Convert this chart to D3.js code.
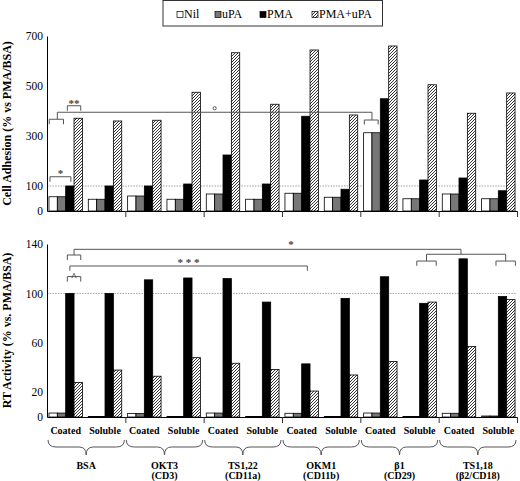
<!DOCTYPE html>
<html><head><meta charset="utf-8">
<script src="https://cdn.jsdelivr.net/npm/d3@7"></script>
<style>body{margin:0;background:#fff}svg{display:block;font-family:"Liberation Serif","Times New Roman",serif}</style>
</head><body><svg id="c" width="520" height="481"></svg>
<script>
// ---- data ----
const groups = ["BSA","OKT3","TS1,22","OKM1","β1","TS1,18"];
const groupSub = ["", "(CD3)", "(CD11a)", "(CD11b)", "(CD29)", "(β2/CD18)"];
const conditions = ["Coated","Soluble"];
const series = ["Nil","uPA","PMA","PMA+uPA"];
// Cell adhesion (% vs PMA/BSA), order: group x condition
const adhNil    = [57,47,60,47,68,47,71,55,313,49,68,49];
const adhUPA    = [57,47,60,47,68,47,71,55,313,49,68,49];
const adhPMA    = [100,100,100,108,224,108,379,87,449,124,132,81];
const adhPMAuPA = [371,360,363,475,633,427,644,384,660,505,391,472];
// RT activity (% vs. PMA/BSA)
const rtNil    = [3.2,0.4,2.8,0.4,3.2,0.4,3,0.4,3.2,0.4,3,0.8];
const rtUPA    = [3.2,0.4,2.8,0.4,3.2,0.4,3,0.4,3.2,0.4,3,0.8];
const rtPMA    = [100,100,111,112.5,112,93,43,96,113.5,92,128,97.5];
const rtPMAuPA = [28,38,33,48,43.5,38.5,21,34,45,93,57,95];
const adhTicks = [0,100,300,500,700];
const rtTicks = [0,20,60,100,140];

// ---- setup ----
const svg = d3.select("#c");
const defs = svg.append("defs");
const pat = defs.append("pattern").attr("id","hatch").attr("patternUnits","userSpaceOnUse")
  .attr("width",3).attr("height",3);
pat.append("rect").attr("width",3).attr("height",3).attr("fill","#fff");
pat.append("path").attr("d","M-1,1 l2,-2 M0,3 l3,-3 M2,4 l2,-2")
  .attr("stroke","#000").attr("stroke-width",0.8);

const fills = {"Nil":"#fff","uPA":"#777","PMA":"#000","PMA+uPA":"url(#hatch)"};
const subIds = [];
groups.forEach(g => conditions.forEach(c => subIds.push(g+"|"+c)));
const X0 = 47, X1 = 517;
const xSub = d3.scaleBand().domain(subIds).range([X0,X1]).paddingInner(0.15).paddingOuter(0.05);
const xBar = d3.scaleBand().domain(series).range([0, xSub.bandwidth()]);
const xGroup = d3.scaleBand().domain(groups).range([X0,X1]);
const xIdx = d3.scaleLinear().domain([0,groups.length]).range([X0,X1]);
const bw = xBar.bandwidth();
const bx = (gi,ci,si) => xSub(groups[gi]+"|"+conditions[ci]) + xBar(series[si]);

const yA = d3.scaleLinear().domain([0,700]).range([211,36]);
const yB = d3.scaleLinear().domain([0,140]).range([417,244]);

const GRAY = "#555";

function panel(y, arrays, ticks, title) {
  const g = svg.append("g");
  g.append("line").attr("x1",X0).attr("x2",X1).attr("y1",y(100)).attr("y2",y(100))
    .attr("stroke","#888").attr("stroke-width",0.8).attr("stroke-dasharray","1.5,1.2");
  const rows = [];
  subIds.forEach((id,i) => series.forEach((s,si) => rows.push({id, s, v: arrays[si][i]})));
  g.selectAll("rect.bar").data(rows).join("rect").attr("class","bar")
    .attr("x", d => xSub(d.id) + xBar(d.s))
    .attr("width", bw)
    .attr("y", d => y(d.v))
    .attr("height", d => y(0) - y(d.v))
    .attr("fill", d => fills[d.s])
    .attr("stroke","#000").attr("stroke-width",0.8);
  const ya = g.append("g").attr("transform",`translate(${X0},0)`)
    .call(d3.axisLeft(y).tickValues(ticks).tickSize(0).tickPadding(4).tickSizeOuter(0));
  ya.select(".domain").attr("stroke","#000");
  ya.selectAll("text").attr("font-family","Liberation Serif").attr("font-size",11.5).attr("fill","#000");
  const xa = g.append("g").attr("transform",`translate(0,${y(0)})`)
    .call(d3.axisBottom(xIdx).tickValues(d3.range(1,groups.length+1)).tickFormat("").tickSize(6).tickSizeOuter(0));
  xa.select(".domain").attr("stroke","#000");
  xa.selectAll(".tick line").attr("stroke","#333");
  const [r0,r1] = y.range();
  svg.append("text").attr("transform",`translate(11,${(r0+r1)/2}) rotate(-90)`)
    .attr("text-anchor","middle").attr("font-weight","bold").attr("font-size",12).text(title);
}
panel(yA, [adhNil,adhUPA,adhPMA,adhPMAuPA], adhTicks, "Cell Adhesion (% vs PMA/BSA)");
panel(yB, [rtNil,rtUPA,rtPMA,rtPMAuPA], rtTicks, "RT Activity (% vs. PMA/BSA)");

// ---- annotations ----
const ann = svg.append("g").attr("fill","none").attr("stroke",GRAY).attr("stroke-width",1);
function bracket(xl, xr, yy, h) {
  ann.append("path").attr("d",`M${xl},${yy+h} V${yy} H${xr} V${yy+h}`);
}
function line(pts) {
  ann.append("path").attr("d", d3.line()(pts));
}
function label(txt, x, yy, size) {
  svg.append("text").attr("x",x).attr("y",yy).attr("text-anchor","middle")
    .attr("font-size",size||11).attr("font-weight","bold").attr("fill","#444").text(txt);
}
// top panel
{
  const xl = bx(0,0,0)+1, xr = bx(0,0,2)+bw/2+1, yy = yA(137);
  bracket(xl, xr, yy, 5);
  label("*", (xl+xr)/2, yy+0.5, 11);
  const c1 = bx(0,0,1), c2 = bx(4,0,1), top = yA(395);
  bracket(bx(0,0,0)+0.3, c1+bw/2+2, yA(367), 5);
  bracket(bx(4,0,0)+0.7, c2+bw/2+2, yA(364), 4.5);
  line([[c1,yA(367)],[c1,top],[c2,top],[c2,yA(364)]]);
  ann.append("circle").attr("cx",(c1+c2)/2).attr("cy",top-4).attr("r",1.6);
  const c3 = bx(0,0,3), y3 = yA(421);
  bracket(c3-6.7, c3+6.7, y3, 5);
  label("**", c3, y3+1.5, 11);
}
// bottom panel
{
  const c = bx(0,0,3);
  const yT = yB(131.1), yL = yB(135.7);
  bracket(c-6.7, c+6.7, yT, 5);
  const m = bx(5,0,2)+2;
  const a = bx(4,1,3)-1.5, b = bx(5,1,3)-1;
  const yH = yB(131.7), yS = yB(126.2);
  line([[c,yT],[c,yL],[m,yL],[m,yH]]);
  line([[a,yS],[a,yH],[b,yH],[b,yS]]);
  bracket(a-9.7, a+9.7, yS, 4.7);
  bracket(b-9.7, b+9.7, yS, 4.7);
  label("*", bx(3,0,0)+6, yL-1, 11);
  const l = bx(0,0,2)+bw/2, r = bx(3,0,2)+bw/2+1.5, y2 = yB(122.2);
  line([[l,y2+4.7],[l,y2],[r,y2],[r,y2+4.7]]);
  label("* * *", (l+r)/2, y2, 11);
  const y3 = yB(113.6);
  bracket(c-6.7, c+6.7, y3, 5);
  label("^", c, y3+3.5, 11);
}

// ---- x labels ----
subIds.forEach((id,i) => {
  svg.append("text").attr("x", xSub(id)+xSub.bandwidth()/2).attr("y",433.5)
    .attr("text-anchor","middle").attr("font-weight","bold").attr("font-size",10)
    .text(conditions[i%2]);
});
groups.forEach((g,i) => {
  const x0 = xGroup(g)+1, x1 = xGroup(g)+xGroup.bandwidth()-1, cx = (x0+x1)/2;
  const yt = 440, ym = 447, yp = 455;
  svg.append("path").attr("fill","none").attr("stroke",GRAY).attr("stroke-width",1)
    .attr("d",`M${x0},${yt} Q${x0},${ym} ${x0+8},${ym} L${cx-7},${ym} Q${cx},${ym} ${cx},${yp} Q${cx},${ym} ${cx+7},${ym} L${x1-8},${ym} Q${x1},${ym} ${x1},${yt}`);
  svg.append("text").attr("x",cx).attr("y",468.5).attr("text-anchor","middle")
    .attr("font-weight","bold").attr("font-size",10).text(g);
  if (groupSub[i]) svg.append("text").attr("x",cx).attr("y",478.5).attr("text-anchor","middle")
    .attr("font-weight","bold").attr("font-size",10).text(groupSub[i]);
});

// ---- legend ----
const lg = svg.append("g");
lg.append("rect").attr("x",163).attr("y",0.5).attr("width",219.5).attr("height",25.5)
  .attr("fill","#fff").attr("stroke","#333").attr("stroke-width",1);
const legX = [177,215,260,312];
series.forEach((s,i) => {
  lg.append("rect").attr("x",legX[i]).attr("y",11.5).attr("width",6).attr("height",6)
    .attr("fill",fills[s]).attr("stroke","#000").attr("stroke-width",0.7);
  lg.append("text").attr("x",legX[i]+7).attr("y",18).attr("font-size",12).text(s);
});
</script></body></html>
